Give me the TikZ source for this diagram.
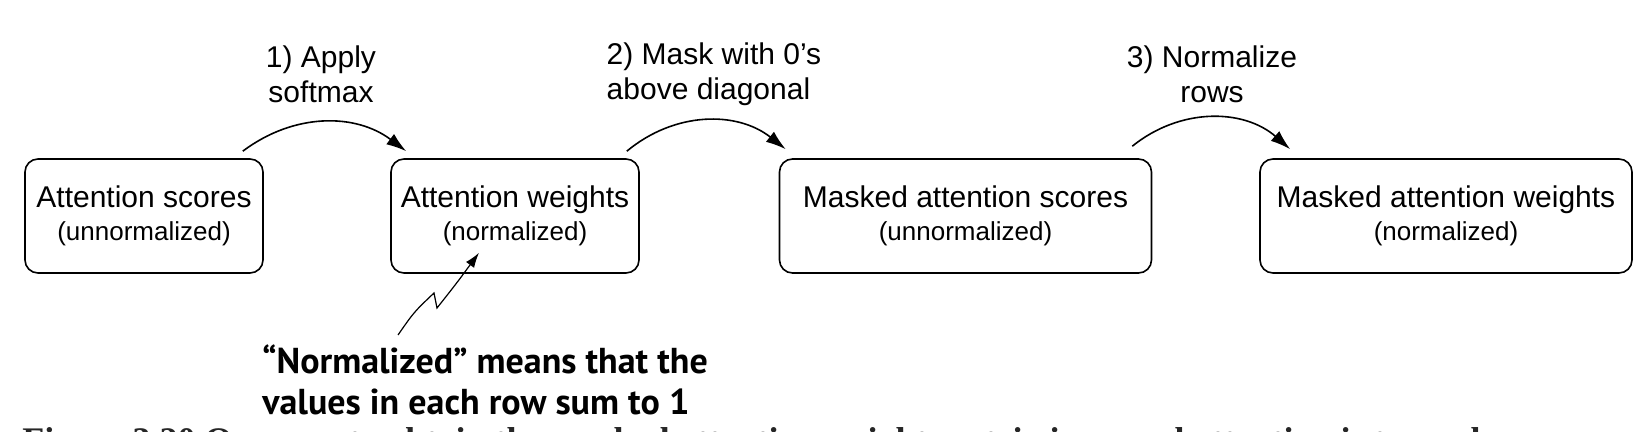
\documentclass[tikz,border=0pt]{standalone}
\usepackage{fontspec}
\setmainfont{Liberation Sans}
\newfontfamily\notefont{PT Sans}
\newfontfamily\capfont{Liberation Serif}
\usetikzlibrary{calc,arrows.meta}

\newcommand{\boxtext}[2]{#1\\{\fontsize{13}{16.5}\selectfont #2}}

\tikzset{
	box/.style={draw, line width=0.8pt, rounded corners=6.5pt, minimum height=57pt, inner sep=0pt, align=center, font=\fontsize{15}{16.5}\selectfont},
	flow/.style={-{Latex[length=10pt,width=6.5pt]}, line width=0.8pt},
	steplabel/.style={align=center, inner sep=0pt, font=\fontsize{15}{17.5}\selectfont}
}

\begin{document}
\begin{tikzpicture}[x=0.5pt,y=-0.5pt]
	\useasboundingbox (0,0) rectangle (1646,432);
	\clip (0,0) rectangle (1646,432);
	\node[box, minimum width=119pt] (scores) at (144,216) {\boxtext{Attention scores}{(unnormalized)}};
	\node[box, minimum width=124pt] (weights) at (515,216) {\boxtext{Attention weights}{(normalized)}};
	\node[box, minimum width=186pt] (mscores) at (965.5,216) {\boxtext{Masked attention scores}{(unnormalized)}};
	\node[box, minimum width=186pt] (mweights) at (1446,216) {\boxtext{Masked attention weights}{(normalized)}};
	\draw[flow] ([shift={(-21,-7)}]scores.north east) to[bend left=37] ([shift={(16,-7)}]weights.north west);
	\draw[flow] ([shift={(-13,-7)}]weights.north east) to[bend left=39] ([shift={(7,-9)}]mscores.north west);
	\draw[flow] ([shift={(-20,-12)}]mscores.north east) to[bend left=40] ([shift={(31,-9)}]mweights.north west);
	\node[steplabel] (apply) at (321,74) {1) Apply\\softmax};
	\node[steplabel, align=left] (mask) at (714,74) {2) Mask with 0’s\\above diagonal};
	\node[steplabel] (norm) at (1212,74) {3) Normalize\\rows};
	\node[anchor=west, inner sep=0pt, align=left, font=\notefont\bfseries\fontsize{18}{20.5}\selectfont] (note) at (262,380) {“Normalized” means that the\\values in each row sum to 1};
	\coordinate (zig) at (398,335);
	\draw[-{Latex[length=7.5pt,width=5pt]}, line width=0.6pt] (zig) .. controls (414,312) .. (434,293) -- (437,308) .. controls (456,284) .. ([shift={(-36,-21)}]weights.south);
	\node[anchor=north west, inner sep=0pt, text=black!85, font=\capfont\bfseries\fontsize{18}{20}\selectfont] (caption) at (22,427) {Figure 3.20 One way to obtain the masked attention weight matrix in causal attention is to apply};
\end{tikzpicture}
\end{document}
